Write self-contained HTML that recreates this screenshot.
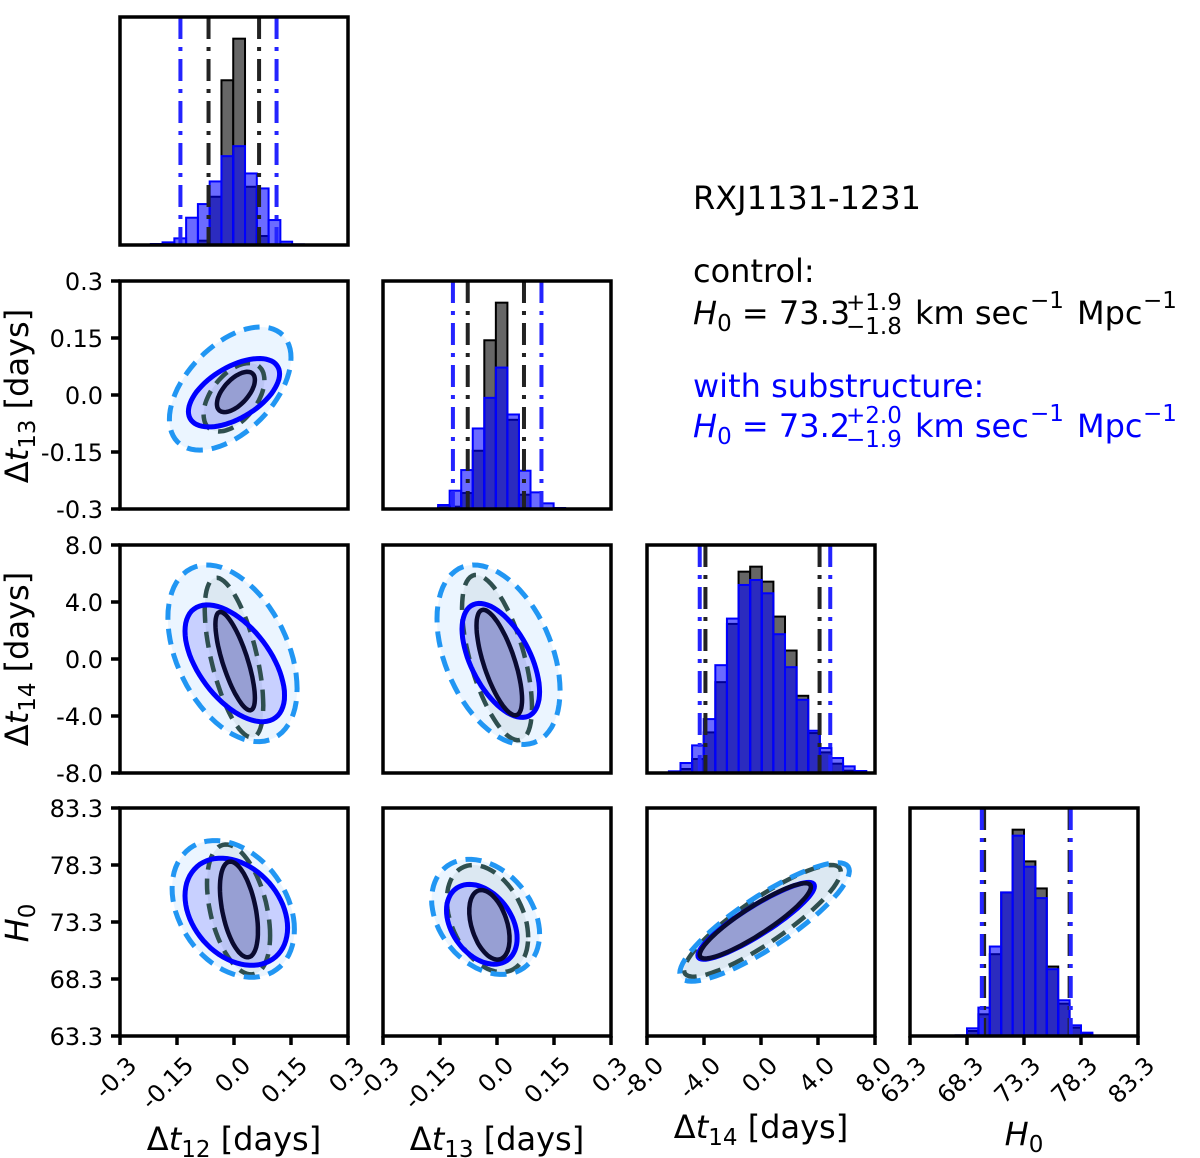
<!DOCTYPE html>
<html><head><meta charset="utf-8"><style>
html,body{margin:0;padding:0;background:#fff}
svg{display:block;font-family:"DejaVu Sans","Liberation Sans",sans-serif}
</style></head><body>
<svg id="chart" width="1200" height="1158" viewBox="0 0 1200 1158" xmlns="http://www.w3.org/2000/svg">
<g id="annot" font-size="32">
<text x="693" y="209" fill="#000">RXJ1131-1231</text>
<text x="693" y="282" fill="#000">control:</text>
<g fill="#000">
<text x="693" y="324"><tspan font-style="italic">H</tspan><tspan font-size="23" dy="7">0</tspan><tspan dy="-7"> = 73.3</tspan></text>
<text x="846" y="310" font-size="23">+1.9</text>
<text x="846" y="334" font-size="23">−1.8</text>
<text x="915" y="324">km sec</text>
<text x="1030" y="308" font-size="23">−1</text>
<text x="1077" y="324">Mpc</text>
<text x="1143" y="308" font-size="23">−1</text>
</g>
<text x="693" y="397" fill="#0000ff">with substructure:</text>
<g fill="#0000ff">
<text x="693" y="437"><tspan font-style="italic">H</tspan><tspan font-size="23" dy="7">0</tspan><tspan dy="-7"> = 73.2</tspan></text>
<text x="846" y="423" font-size="23">+2.0</text>
<text x="846" y="447" font-size="23">−1.9</text>
<text x="915" y="437">km sec</text>
<text x="1030" y="421" font-size="23">−1</text>
<text x="1077" y="437">Mpc</text>
<text x="1143" y="421" font-size="23">−1</text>
</g>
</g>
</svg>
<script>
// ---- data ----
const varNames = ['dt12','dt13','dt14','H0'];
const varMin = [-0.3,-0.3,-8,63.3];
const varMax = [0.3,0.3,8,83.3];
const tickVals0 = [-0.3,-0.15,0,0.15,0.3];
const tickVals1 = [-0.3,-0.15,0,0.15,0.3];
const tickVals2 = [-8,-4,0,4,8];
const tickVals3 = [63.3,68.3,73.3,78.3,83.3];
const tickLabels0 = ['-0.3','-0.15','0.0','0.15','0.3'];
const tickLabels1 = ['-0.3','-0.15','0.0','0.15','0.3'];
const tickLabels2 = ['-8.0','-4.0','0.0','4.0','8.0'];
const tickLabels3 = ['63.3','68.3','73.3','78.3','83.3'];

// histograms: first bin edge, bin width, counts
const h0Start = -0.219, h0Width = 0.031;
const h0Ctrl = [0,0,0,0,13,145,495,620,175,27,2,0,0];
const h0Sub  = [3,8,20,82,123,191,267,297,215,170,75,10,2];
const h1Start = -0.155, h1Width = 0.0304;
const h1Ctrl = [5,7,48,175,507,620,268,43,0,0,0];
const h1Sub  = [12,55,117,242,334,425,284,115,50,17,3];
const h2Start = -7.28, h2Width = 0.815;
const h2Ctrl = [0,0,12,42,122,273,448,605,620,575,470,368,232,120,62,28,7,0,0];
const h2Sub  = [1,5,30,83,162,324,464,565,580,540,417,318,220,127,75,45,20,6,0];
const h3Start = 67.3, h3Width = 1.0;
const h3Ctrl = [0,15,65,245,430,618,523,442,208,97,25,5];
const h3Sub  = [2,23,85,268,430,600,507,413,200,107,32,10];

// quantile lines
const q0Ctrl = [-0.067,0.066], q0Sub = [-0.141,0.112];
const q1Ctrl = [-0.077,0.071], q1Sub = [-0.116,0.117];
const q2Ctrl = [-3.9,4.11],   q2Sub = [-4.3,4.86];
const q3Ctrl = [69.8,77.3],   q3Sub = [69.6,77.4];

// contours: [centerX, centerY, halfExtentX, halfExtentY, correlation]
const c10CtrlIn  = [0.005,0.008,0.05,0.053,0.6];
const c10CtrlOut = [0.0,-0.006,0.08,0.09,0.5];
const c10SubIn   = [0.0,0.006,0.12,0.09,0.55];
const c10SubOut  = [-0.01,0.017,0.16,0.162,0.5];
const c20CtrlIn  = [0.003,-0.15,0.052,3.45,-0.75];
const c20CtrlOut = [0.0,0.1,0.077,5.6,-0.6];
const c20SubIn   = [0.002,-0.3,0.131,4.1,-0.55];
const c20SubOut  = [-0.004,0.4,0.17,6.2,-0.4];
const c21CtrlIn  = [0.006,-0.25,0.06,3.7,-0.7];
const c21CtrlOut = [0.0,0.1,0.092,5.8,-0.6];
const c21SubIn   = [0.01,-0.1,0.102,4.0,-0.55];
const c21SubOut  = [0.004,0.3,0.162,6.3,-0.4];
const c30CtrlIn  = [0.013,74.4,0.05,4.2,-0.45];
const c30CtrlOut = [0.012,74.4,0.083,5.7,-0.4];
const c30SubIn   = [0.006,74.2,0.135,4.7,-0.3];
const c30SubOut  = [-0.002,74.45,0.161,6.0,-0.3];
const c31CtrlIn  = [-0.02,73.05,0.053,3.05,-0.4];
const c31CtrlOut = [-0.025,73.6,0.107,4.7,-0.35];
const c31SubIn   = [-0.04,73.1,0.093,3.5,-0.35];
const c31SubOut  = [-0.03,73.75,0.142,5.05,-0.3];
const c32CtrlIn  = [-0.4,73.4,3.9,3.3,0.9];
const c32CtrlOut = [0.1,73.4,5.5,4.9,0.88];
const c32SubIn   = [-0.34,73.4,4.09,3.37,0.9];
const c32SubOut  = [0.25,73.3,5.95,5.2,0.86];

// ---- layout ----
const NS='http://www.w3.org/2000/svg';
const svg=document.getElementById('chart');
const colX=[120,383,647,910], rowY=[17,281,545,808], PW=228, PH=228;
const tickVals=[tickVals0,tickVals1,tickVals2,tickVals3];
const tickLabels=[tickLabels0,tickLabels1,tickLabels2,tickLabels3];
function mk(tag,attrs,parent){const e=document.createElementNS(NS,tag);for(const k in attrs)e.setAttribute(k,attrs[k]);(parent||svg).appendChild(e);return e;}
function xScale(col,v){return colX[col]+(v-varMin[col])/(varMax[col]-varMin[col])*PW;}
function yScale(row,v){return rowY[row]+PH-(v-varMin[row])/(varMax[row]-varMin[row])*PH;}

function drawHist(col,start,width,ctrl,sub,qc,qs){
  const g=mk('g',{});
  
  
  const ymax=Math.max(...ctrl,...sub)*1.105;
  const y0=rowY[col]+PH;
  const hy=v=>y0-v/ymax*PH;
  ctrl.forEach((v,i)=>{ if(v<=0) return;
    const xa=xScale(col,start+i*width), xb=xScale(col,start+(i+1)*width);
    const r=mk('rect',{x:xa,y:hy(v),width:xb-xa,height:y0-hy(v),fill:'#666',stroke:'#000','stroke-width':2},g);
    
    
  });
  sub.forEach((v,i)=>{ if(v<=0) return;
    const xa=xScale(col,start+i*width), xb=xScale(col,start+(i+1)*width);
    const r=mk('rect',{x:xa,y:hy(v),width:xb-xa,height:y0-hy(v),fill:'rgba(0,0,255,0.58)',stroke:'#0000ff','stroke-width':2},g);
    
    
  });
  qc.forEach(q=>{const x=xScale(col,q);
    const l=mk('line',{x1:x,x2:x,y1:rowY[col],y2:y0,stroke:'#222','stroke-width':4,'stroke-dasharray':'22 8 4 8'},g);
    
    });
  qs.forEach(q=>{const x=xScale(col,q);
    const l=mk('line',{x1:x,x2:x,y1:rowY[col],y2:y0,stroke:'#2424ff','stroke-width':4,'stroke-dasharray':'22 8 4 8'},g);
    
    });
}

function ellPath(row,col,c){
  const [cx,cy,ex,ey,rho]=c; const s=Math.sqrt(1-rho*rho); let d='';
  for(let k=0;k<=72;k++){const t=k/72*2*Math.PI;
    const x=cx+ex*Math.cos(t), y=cy+ey*(rho*Math.cos(t)+s*Math.sin(t));
    d+=(k?'L':'M')+xScale(col,x).toFixed(1)+' '+yScale(row,y).toFixed(1);}
  return d+'Z';
}
function drawContour(row,col,ci,co,si,so){
  const g=mk('g',{});
  
  
  const fills=[[co,'rgba(47,79,79,0.08)'],[so,'rgba(30,144,255,0.09)'],[si,'rgba(0,0,255,0.15)'],[ci,'rgba(10,10,80,0.2)']];
  fills.forEach(([c,f])=>mk('path',{d:ellPath(row,col,c),fill:f,stroke:'none'},g));
  const a=mk('path',{d:ellPath(row,col,co),fill:'none',stroke:'#2f4f4f','stroke-width':4.5,'stroke-dasharray':'16 9'},g);
  
  
  const b=mk('path',{d:ellPath(row,col,so),fill:'none',stroke:'#2196f3','stroke-width':5,'stroke-dasharray':'16 9'},g);
  
  
  const c=mk('path',{d:ellPath(row,col,si),fill:'none',stroke:'#0000ff','stroke-width':5},g);
  
  
  const d=mk('path',{d:ellPath(row,col,ci),fill:'none',stroke:'#0a0a30','stroke-width':4.5},g);
  
  
}

drawHist(0,h0Start,h0Width,h0Ctrl,h0Sub,q0Ctrl,q0Sub);
drawHist(1,h1Start,h1Width,h1Ctrl,h1Sub,q1Ctrl,q1Sub);
drawHist(2,h2Start,h2Width,h2Ctrl,h2Sub,q2Ctrl,q2Sub);
drawHist(3,h3Start,h3Width,h3Ctrl,h3Sub,q3Ctrl,q3Sub);
drawContour(1,0,c10CtrlIn,c10CtrlOut,c10SubIn,c10SubOut);
drawContour(2,0,c20CtrlIn,c20CtrlOut,c20SubIn,c20SubOut);
drawContour(2,1,c21CtrlIn,c21CtrlOut,c21SubIn,c21SubOut);
drawContour(3,0,c30CtrlIn,c30CtrlOut,c30SubIn,c30SubOut);
drawContour(3,1,c31CtrlIn,c31CtrlOut,c31SubIn,c31SubOut);
drawContour(3,2,c32CtrlIn,c32CtrlOut,c32SubIn,c32SubOut);

// frames
for(let r=0;r<4;r++)for(let c=0;c<=r;c++){
  const f=mk('rect',{x:colX[c],y:rowY[r],width:PW,height:PH,fill:'none',stroke:'#000','stroke-width':3.5});
  
  
}
// y ticks (col 0, rows 1-3)
for(let r=1;r<4;r++){
  const g=mk('g',{});
  
  
  tickVals[r].forEach((v,i)=>{const y=yScale(r,v);
    mk('line',{x1:colX[0]-9,x2:colX[0],y1:y,y2:y,stroke:'#000','stroke-width':3.5},g);
    const t=mk('text',{x:colX[0]-17,y:y+9,'text-anchor':'end','font-size':24},g);
    
    
    t.textContent=tickLabels[r][i];});
}
// x ticks (row 3)
for(let c=0;c<4;c++){
  const g=mk('g',{});
  
  
  const yb=rowY[3]+PH;
  tickVals[c].forEach((v,i)=>{const x=xScale(c,v);
    mk('line',{x1:x,x2:x,y1:yb,y2:yb+9,stroke:'#000','stroke-width':3.5},g);
    const ax=x+18, ay=yb+31;
    const t=mk('text',{x:ax,y:ay,'text-anchor':'end','font-size':24,transform:`rotate(-45 ${ax} ${ay})`},g);
    
    
    t.textContent=tickLabels[c][i];});
}
</script>
<script>
(function(){
const NS='http://www.w3.org/2000/svg';const svg=document.getElementById('chart');
function title(x,y,rot,sub,days,name){
  const t=document.createElementNS(NS,'text');
  t.setAttribute('x',x);t.setAttribute('y',y);t.setAttribute('font-size','32');t.setAttribute('text-anchor','middle');
  if(rot)t.setAttribute('transform',`rotate(-90 ${x} ${y})`);
  
  
  if(days){t.innerHTML='Δ<tspan font-style="italic">t</tspan><tspan font-size="23" dy="7">'+sub+'</tspan><tspan dy="-7"> [days]</tspan>';}
  else{t.innerHTML='<tspan font-style="italic">H</tspan><tspan font-size="23" dy="7">0</tspan>';}
  svg.appendChild(t);
}
title(28,396,true,'13',true,'y-axis-title-dt13');
title(28,659,true,'14',true,'y-axis-title-dt14');
title(28,923,true,'0',false,'y-axis-title-h0');
title(234,1150,false,'12',true,'x-axis-title-dt12');
title(497,1150,false,'13',true,'x-axis-title-dt13');
title(761,1138,false,'14',true,'x-axis-title-dt14');
title(1024,1145,false,'0',false,'x-axis-title-h0');
})();
</script>
</body></html>
